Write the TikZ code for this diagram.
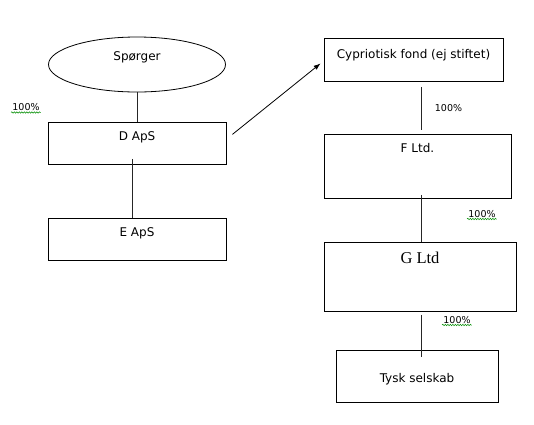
\documentclass[tikz,border=0pt]{standalone}
\usepackage{fontspec}
\setsansfont{DejaVu Sans}
\newfontfamily\timesfont{Liberation Serif}
\usetikzlibrary{shapes.geometric,arrows.meta,calc,decorations.pathmorphing}

\begin{document}
\begin{tikzpicture}[
    x=1pt, y=-1pt,
    font=\sffamily\fontsize{12}{14}\selectfont,
    line width=0.8pt,
    boks/.style={draw, anchor=north, inner sep=0pt, minimum height=0pt},
    ejer/.style={draw, ellipse, inner sep=0pt, minimum width=177pt, minimum height=55pt},
    streg/.style={line width=0.7pt, black!85},
    pil/.style={-{Latex[length=7pt,width=5pt]}, line width=0.8pt},
    andel/.style={font=\sffamily\fontsize{9.5}{11}\selectfont, inner sep=1pt},
    krusning/.style={green!55!black, line width=0.5pt, decorate,
                     decoration={snake, amplitude=0.7pt, segment length=2.5pt}}
]
\useasboundingbox (0,0) rectangle (534,424);

\node[ejer, text height=2pt, text depth=11pt] (spoerger) at (137,64.5) {Spørger};
\node[boks, minimum width=178pt, text height=18pt, text depth=24pt] (dasp) at (137,122) {D ApS};
\node[boks, minimum width=178pt, text height=18pt, text depth=24pt] (easp) at (137,218) {E ApS};
\node[boks, minimum width=179pt, text height=20pt, text depth=23pt] (fond) at (413.5,38) {Cypriotisk fond (ej stiftet)};
\node[boks, minimum width=187pt, text height=18pt, text depth=46pt] (fltd) at (417.5,134) {F Ltd.};
\node[boks, minimum width=192pt, text height=21pt, text depth=48pt,
      font=\timesfont\fontsize{16.5}{18}\selectfont] (gltd) at (420,242) {G Ltd};
\node[boks, minimum width=162pt, text height=32pt, text depth=20pt] (tysk) at (417,350) {Tysk selskab};

% ejerandele
\node[andel] (andel1) at (26,107.5) {100\%};
\node[andel] (andel2) at (448.5,108) {100\%};
\node[andel] (andel3) at (482,214) {100\%};
\node[andel] (andel4) at (457,320) {100\%};
\draw[krusning] (andel1.south west) -- (andel1.south east);
\draw[krusning] (andel3.south west) -- (andel3.south east);
\draw[krusning] (andel4.south west) -- (andel4.south east);

\draw[streg] (spoerger.south) -- (dasp.north);
\draw[streg] ([xshift=-5pt,yshift=6pt]dasp.south) -- ([xshift=-5pt]easp.north);
\draw[pil] ([xshift=6pt,yshift=9pt]dasp.east) -- ([xshift=-3pt,yshift=-3.5pt]fond.west);
\draw[streg] ([xshift=7.5pt,yshift=-5pt]fond.south) -- ([xshift=3.5pt,yshift=4pt]fltd.north);
\draw[streg] ([xshift=3.5pt,yshift=4pt]fltd.south) -- ([xshift=1pt]gltd.north);
\draw[streg] ([xshift=1pt,yshift=-3pt]gltd.south) -- ([xshift=4pt,yshift=-7pt]tysk.north);

\end{tikzpicture}
\end{document}
